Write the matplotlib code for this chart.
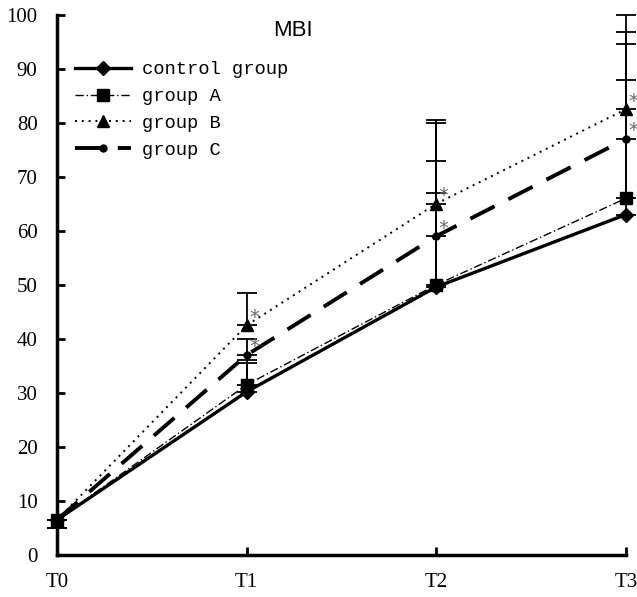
import matplotlib
matplotlib.use("Agg")
import matplotlib.pyplot as plt
import numpy as np

# data
times = ["T0", "T1", "T2", "T3"]
control = [6.5, 30.2, 49.6, 63.0]
group_a = [6.5, 31.5, 50.0, 66.0]
group_b = [6.5, 42.5, 65.0, 82.5]
group_c = [6.5, 37.0, 59.0, 77.0]

# upper ends of the error bars
control_top = [6.5, 35.5, 67.0, 88.0]
group_a_top = [6.5, 36.0, 73.0, 94.6]
group_b_top = [6.5, 48.5, 80.5, 100.0]
group_c_top = [6.5, 40.0, 80.0, 96.8]
t0_low = 5.0

x = np.arange(len(times))

fig = plt.figure(figsize=(6.37, 5.97), dpi=100)
ax = fig.add_axes([0.0895, 0.0704, 0.893, 0.905])

styles = [
    (control, control_top, "control group", "-", "D", 2.4, 7),
    (group_a, group_a_top, "group A", (0, (6, 2, 1, 2)), "s", 1.0, 9),
    (group_b, group_b_top, "group B", (0, (1, 2.5)), "^", 1.4, 8),
    (group_c, group_c_top, "group C", (0, (7, 4)), "o", 2.8, 5),
]

for vals, tops, label, ls, mk, lw, ms in styles:
    vals = np.array(vals)
    upper = np.array(tops) - vals
    lower = np.zeros_like(vals)
    lower[0] = vals[0] - t0_low
    ax.errorbar(x, vals, yerr=[lower, upper], fmt="none", ecolor="black",
                elinewidth=1.3, capsize=7, capthick=1.3, clip_on=False, zorder=2)
    ax.plot(x, vals, linestyle=ls, marker=mk, color="black", lw=lw, ms=ms,
            label=label, clip_on=False, zorder=3)

# significance marks (the ones at T3 sit on the right edge, cut as in the source)
for vals in (group_b, group_c):
    for i in (1, 2, 3):
        ax.text(x[i] + 0.012, vals[i] + 1.5, "*", fontsize=14, color="dimgray",
                family="DejaVu Sans", ha="left", va="center", clip_on=False)

ax.set_xlim(0, 3)
ax.set_ylim(0, 100)
ax.set_xticks(x)
ax.set_xticklabels(times)
ax.set_yticks(np.arange(0, 101, 10))
for s in ("top", "right"):
    ax.spines[s].set_visible(False)
for s in ("left", "bottom"):
    ax.spines[s].set_linewidth(2.5)
ax.tick_params(direction="in", width=2, length=6, labelsize=15)
ax.tick_params(axis="y", pad=14)
ax.tick_params(axis="x", pad=13)
for lab in ax.get_xticklabels() + ax.get_yticklabels():
    lab.set_family("Liberation Serif")

ax.text(0.415, 0.99, "MBI", transform=ax.transAxes, ha="center", va="top",
        fontsize=16, family="Liberation Sans")

leg = ax.legend(loc="upper left", bbox_to_anchor=(0.032, 0.914), frameon=False,
                borderaxespad=0, borderpad=0,
                handlelength=3.0, labelspacing=0.52, handletextpad=0.55,
                prop={"family": "Liberation Mono", "size": 13.5})

fig.savefig("out.png", dpi=100)
